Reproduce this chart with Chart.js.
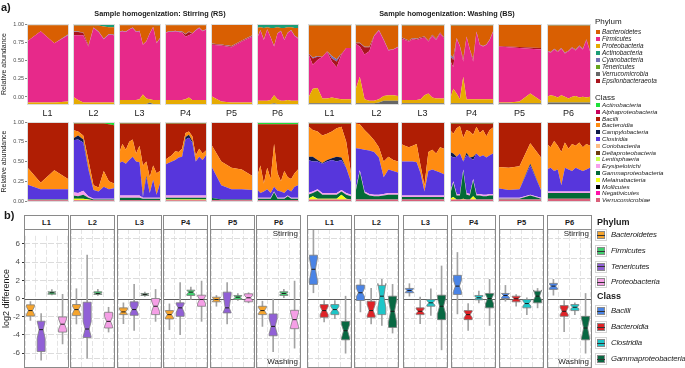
<!DOCTYPE html>
<html><head><meta charset="utf-8">
<script src="https://cdn.jsdelivr.net/npm/chart.js@4"></script>
<style>
html,body{margin:0;padding:0;background:#fff;}
#root{position:relative;width:685px;height:368px;overflow:hidden;font-family:"Liberation Sans",Arial,sans-serif;color:#1a1a1a;}
.t{position:absolute;white-space:nowrap;line-height:1;}
.frame{position:absolute;box-sizing:border-box;pointer-events:none;}
canvas{position:absolute;}
</style></head><body><div id="root"></div>
<script>
// ================= DATA =================
const panelNames = ['L1','L2','L3','P4','P5','P6'];

// Phylum stack order (bottom -> top)
const phylumStack = ['Verrucomicrobia','Proteobacteria','Firmicutes','Epsilonbacteraeota','Cyanobacteria','Bacteroidetes','Actinobacteria'];
// Class stack order (bottom -> top)
const classStack = ['Verrucomicrobiae','Melainabacteria','Gammaproteobacteria','Erysipelotrichia','Clostridia','Campylobacteria','Bacteroidia','Bacilli','Actinobacteria'];

// ---- Phylum relative abundance, Stirring (RS) ----
const phyRS_L1 = [
 [0,0,0,0],
 [.02,.02,.02,.03],
 [.76,.89,.74,.83],
 [0,0,0,0],
 [0,0,0,.01],
 [.205,.075,.225,.115],
 [.015,.015,.015,.015]];
const phyRS_L2 = [
 [0,0,0,0,0,0,0,0,0],
 [.09,.05,.02,.02,.02,.02,.02,.02,.02],
 [.77,.81,.84,.70,.93,.88,.79,.85,.84],
 [.04,.04,.03,.01,0,0,0,0,0],
 [.005,.005,.005,.005,.005,.005,.005,.005,.005],
 [.075,.075,.085,.245,.025,.075,.155,.085,.095],
 [.02,.02,.02,.02,.02,.02,.03,.04,.04]];
const phyRS_L3 = [
 [0,0,0,0,0,0,0,0,0,.02,0,0,0],
 [.05,.05,.05,.05,.05,.05,.06,.12,.07,.04,.05,.05,.05],
 [.85,.86,.85,.88,.90,.85,.85,.62,.71,.82,.91,.71,.77],
 [0,0,0,0,0,0,0,0,0,0,0,0,0],
 [.005,.005,.005,.005,.005,.005,.005,.005,.005,.005,.005,.005,.005],
 [.08,.07,.08,.05,.03,.08,.07,.24,.20,.10,.02,.215,.155],
 [.015,.015,.015,.015,.015,.015,.015,.015,.015,.015,.015,.02,.02]];
const phyRS_P4 = [
 [0,0,0,0,0,0,0,0,0,0,0,0,0],
 [.05,.05,.05,.05,.05,.05,.06,.08,.05,.05,.05,.05,.05],
 [.84,.85,.85,.86,.85,.84,.78,.78,.83,.87,.90,.86,.88],
 [0,0,0,0,0,.01,.03,.04,0,0,0,0,0],
 [.005,.005,.005,.005,.005,.005,.005,.005,.005,.005,.005,.005,.005],
 [.09,.08,.08,.07,.08,.08,.11,.08,.10,.06,.03,.07,.05],
 [.015,.015,.015,.015,.015,.015,.015,.015,.015,.015,.015,.015,.015]];
const phyRS_P5 = [
 [0,0,0,0,0],
 [.10,.03,.02,.02,.02],
 [.64,.70,.69,.76,.82],
 [.01,.01,.01,.01,.01],
 [.005,.005,.005,.005,.005],
 [.24,.25,.27,.20,.14],
 [.005,.005,.005,.005,.005]];
const phyRS_P6 = [
 [0,0,0,0,0,.01,0,0,0,0,0,0,0],
 [.04,.04,.04,.04,.05,.10,.06,.04,.04,.05,.04,.04,.04],
 [.78,.88,.76,.89,.78,.61,.82,.87,.76,.84,.88,.81,.78],
 [0,0,0,0,0,0,0,0,0,0,0,0,0],
 [.005,.005,.005,.005,.005,.005,.005,.005,.005,.005,.005,.005,.005],
 [.125,.035,.145,.025,.115,.225,.075,.035,.145,.065,.035,.095,.125],
 [.05,.04,.05,.04,.05,.05,.04,.05,.05,.04,.04,.05,.05]];

// ---- Phylum relative abundance, Washing (BS) ----
const phyBS_L1 = [
 [.01,.01,.01,.01,.01,.01,.01,.01,.01,.01],
 [.06,.18,.19,.06,.06,.07,.06,.05,.05,.05],
 [.57,.30,.35,.52,.58,.45,.39,.56,.64,.64],
 [0,.08,.04,0,.01,.04,.07,.01,0,0],
 [0,.01,.01,0,0,.03,.03,0,0,0],
 [.34,.40,.38,.39,.32,.38,.42,.35,.28,.28],
 [.02,.02,.02,.02,.02,.02,.02,.02,.02,.02]];
const phyBS_L2 = [
 [.01,.01,.01,.01,.01,.02,.04,.04,.04,.04],
 [.15,.33,.05,.03,.03,.04,.06,.07,.07,.06],
 [.60,.38,.56,.62,.81,.86,.70,.56,.57,.61],
 [0,.04,.09,.05,0,0,0,0,0,0],
 [.005,.005,.005,.005,.005,.005,.005,.005,.005,.005],
 [.215,.215,.265,.265,.125,.055,.175,.305,.295,.265],
 [.02,.02,.02,.02,.02,.02,.02,.02,.02,.02]];
const phyBS_L3 = [
 [.01,.01,.01,.01,.01,.01,.01,.01,.01,.01,.01,.01],
 [.04,.04,.04,.04,.04,.05,.10,.12,.07,.06,.06,.06],
 [.77,.75,.73,.76,.75,.76,.72,.65,.77,.73,.81,.75],
 [.01,.01,.01,.01,.01,.01,.01,.01,.01,.01,.01,.01],
 [.005,.005,.005,.005,.005,.005,.005,.005,.005,.005,.005,.005],
 [.145,.165,.185,.155,.165,.145,.135,.185,.115,.165,.085,.145],
 [.02,.02,.02,.02,.02,.02,.02,.02,.02,.02,.02,.02]];
const phyBS_P4 = [
 [.01,.01,.01,.01,.01,.01,.01,.01,.01,.01,.01,.01,.01,.01],
 [.05,.18,.12,.05,.33,.05,.05,.05,.05,.05,.05,.05,.05,.05],
 [.49,.27,.69,.66,.19,.78,.62,.47,.84,.68,.66,.68,.74,.84],
 [.05,.09,0,0,.03,0,0,.03,0,0,0,0,0,0],
 [.02,.03,.005,.005,.005,.005,.005,.005,.005,.005,.005,.005,.005,.005],
 [.36,.40,.155,.255,.415,.135,.295,.415,.075,.235,.255,.235,.175,.075],
 [.02,.02,.02,.02,.02,.02,.02,.02,.02,.02,.02,.02,.02,.02]];
const phyBS_P5 = [
 [.01,.01,.01,.01,.01],
 [.01,.01,.02,.12,.03],
 [.70,.69,.67,.56,.64],
 [.005,.01,.012,.015,.02],
 [0,0,0,0,0],
 [.27,.275,.283,.29,.295],
 [.005,.005,.005,.005,.005]];
const phyBS_P6 = [
 [.02,.02,.02,.02,.02,.02,.02,.02,.02,.02,.02,.02,.02],
 [.07,.09,.08,.06,.09,.07,.05,.07,.08,.06,.07,.06,.07],
 [.57,.53,.58,.57,.58,.54,.59,.61,.57,.64,.59,.72,.57],
 [.005,.005,.005,.005,.005,.005,.005,.005,.005,.005,.005,.005,.005],
 [.005,.005,.005,.005,.005,.005,.005,.005,.005,.005,.005,.005,.005],
 [.31,.33,.29,.32,.28,.34,.31,.27,.30,.25,.29,.17,.31],
 [.02,.02,.02,.02,.02,.02,.02,.02,.02,.02,.02,.02,.02]];

// ---- Class relative abundance, Stirring (RS) ----
const clsRS_L1 = [
 [.01,.01,.01,.01],
 [0,0,0,0],
 [.01,.01,.01,.01],
 [.005,.005,.005,.005],
 [.185,.125,.125,.125],
 [0,0,0,0],
 [.22,.08,.24,.13],
 [.56,.76,.60,.71],
 [.01,.01,.01,.01]];
const clsRS_L2 = [
 [.01,.01,.01,.01,.01,.01,.01,.01,.01],
 [.02,.02,.02,.01,0,0,0,0,0],
 [.04,.03,.05,.02,.01,.01,.01,.01,.01],
 [.04,.04,.05,.02,.01,.01,.01,.01,.01],
 [.66,.68,.61,.34,.11,.09,.15,.12,.13],
 [.02,.05,.04,.01,0,0,0,0,0],
 [.11,.05,.05,.11,.06,.05,.20,.10,.06],
 [.08,.10,.15,.46,.78,.81,.60,.72,.74],
 [.02,.02,.02,.02,.02,.02,.02,.03,.04]];
const clsRS_L3 = [
 [.01,.01,.01,.01,.01,.01,.01,.01,.01,.01,.01,.01,.01],
 [0,0,0,0,0,0,0,0,0,0,0,0,0],
 [.03,.03,.03,.03,.03,.03,.03,.02,.02,.02,.02,.02,.02],
 [.03,.03,.03,.03,.03,.03,.03,.01,.01,.01,.01,.01,.01],
 [.41,.43,.40,.45,.49,.43,.42,.01,.26,.06,.23,.04,.18],
 [0,0,0,0,0,0,0,.02,.02,0,0,0,0],
 [.12,.22,.18,.23,.22,.10,.21,.38,.18,.20,.18,.27,.16],
 [.38,.26,.33,.23,.20,.38,.28,.53,.48,.68,.53,.63,.60],
 [.02,.02,.02,.02,.02,.02,.02,.02,.02,.02,.02,.02,.02]];
const clsRS_P4 = [
 [.01,.01,.01,.01,.01,.01,.01,.01,.01,.01,.01,.01,.01],
 [.01,.01,.01,.01,.01,.01,.01,.01,.01,.01,.01,.01,.01],
 [.02,.02,.02,.02,.02,.02,.02,.02,.02,.02,.02,.02,.02],
 [.03,.03,.03,.03,.03,.03,.03,.03,.03,.03,.03,.03,.03],
 [.39,.41,.43,.45,.48,.49,.71,.73,.67,.43,.49,.45,.51],
 [0,0,0,0,0,0,.03,.04,.02,0,0,0,0],
 [.06,.07,.08,.11,.07,.10,.05,.04,.06,.08,.10,.08,.06],
 [.46,.43,.40,.35,.36,.32,.12,.10,.16,.40,.32,.38,.34],
 [.02,.02,.02,.02,.02,.02,.02,.02,.02,.02,.02,.02,.02]];
const clsRS_P5 = [
 [.01,.01,.01,.01,.01],
 [0,0,0,0,0],
 [.03,.01,.01,.01,.01],
 [0,0,0,0,0],
 [.41,.18,.13,.13,.12],
 [0,0,0,0,0],
 [.27,.30,.27,.25,.18],
 [.28,.50,.58,.60,.68],
 [0,0,0,0,0]];
const clsRS_P6 = [
 [.01,.01,.01,.01,.01,.01,.01,.01,.01,.01,.01,.01,.01],
 [0,0,0,0,0,0,0,0,0,0,0,0,0],
 [.02,.02,.02,.02,.02,.10,.02,.02,.02,.05,.02,.02,.02],
 [.01,.01,.01,.01,.01,.01,.01,.01,.01,.01,.01,.01,.01],
 [.11,.06,.08,.11,.06,.06,.09,.08,.06,.08,.08,.14,.16],
 [0,0,0,0,0,0,0,0,0,0,0,0,0],
 [.15,.35,.10,.27,.18,.54,.22,.13,.28,.15,.16,.17,.20],
 [.67,.52,.75,.55,.69,.25,.62,.72,.59,.67,.69,.62,.57],
 [.03,.03,.03,.03,.03,.03,.03,.03,.03,.03,.03,.03,.03]];

// ---- Class relative abundance, Washing (BS) ----
const clsBS_L1 = [
 [.02,.02,.02,.02,.02,.02,.02,.02,.02,.02],
 [.01,.04,.01,.01,.01,.01,.01,.06,.01,0],
 [.05,.04,.10,.05,.05,.05,.05,.04,.05,.04],
 [.02,.02,.02,.02,.02,.02,.02,.02,.02,.02],
 [.42,.38,.35,.37,.40,.42,.40,.38,.32,.16],
 [.04,.06,.02,.01,.02,.02,.06,.03,0,0],
 [.39,.34,.36,.35,.33,.34,.36,.39,.33,.11],
 [.03,.08,.10,.15,.13,.10,.06,.04,.23,.63],
 [.02,.02,.02,.02,.02,.02,.02,.02,.02,.02]];
const clsBS_L2 = [
 [.02,.02,.02,.02,.02,.02,.02,.02,.02,.02],
 [0,0,0,0,0,0,0,0,0,0],
 [.06,.35,.08,.05,.04,.04,.05,.06,.06,.06],
 [.02,.02,.02,.02,.02,.02,.02,.02,.02,.02],
 [.57,.27,.53,.55,.54,.47,.21,.30,.28,.26],
 [0,0,0,0,0,0,0,0,0,0],
 [.31,.31,.25,.20,.15,.13,.20,.16,.14,.14],
 [.01,.02,.09,.15,.22,.31,.49,.43,.47,.49],
 [.01,.01,.01,.01,.01,.01,.01,.01,.01,.01]];
const clsBS_L3 = [
 [.02,.02,.02,.02,.02,.02,.02,.02,.02,.02,.02,.02],
 [0,0,0,0,0,0,0,0,0,0,0,0],
 [.03,.03,.03,.03,.03,.03,.03,.03,.03,.03,.03,.03],
 [.02,.02,.02,.02,.02,.02,.02,.02,.02,.02,.02,.02],
 [.43,.43,.43,.43,.42,.28,.05,.31,.33,.31,.29,.27],
 [0,0,0,0,0,0,0,0,0,0,0,0],
 [.22,.20,.18,.20,.23,.10,.08,.24,.25,.22,.32,.32],
 [.27,.29,.31,.29,.27,.54,.79,.37,.34,.39,.31,.33],
 [.01,.01,.01,.01,.01,.01,.01,.01,.01,.01,.01,.01]];
const clsBS_P4 = [
 [.02,.02,.02,.02,.02,.02,.02,.02,.02,.02,.02,.02,.02,.02],
 [.01,.03,0,0,.01,0,0,.04,0,0,0,0,0,0],
 [.05,.18,.05,.05,.35,.06,.05,.20,.05,.05,.04,.04,.05,.05],
 [.02,.02,.02,.02,.02,.02,.02,.02,.02,.02,.02,.02,.02,.02],
 [.48,.30,.47,.51,.10,.48,.46,.24,.51,.47,.50,.47,.49,.51],
 [.04,.05,0,0,0,.03,0,.04,0,0,0,0,0,0],
 [.28,.25,.36,.35,.30,.29,.33,.28,.34,.30,.32,.27,.32,.33],
 [.08,.13,.06,.03,.18,.08,.10,.14,.04,.12,.08,.16,.08,.05],
 [.02,.02,.02,.02,.02,.02,.02,.02,.02,.02,.02,.02,.02,.02]];
const clsBS_P5 = [
 [.02,.02,.02,.02,.02],
 [0,0,0,0,0],
 [.01,.01,.01,.05,.01],
 [.01,.01,.01,.01,.01],
 [.12,.10,.11,.37,.10],
 [0,0,0,.02,0],
 [.27,.28,.29,.26,.41],
 [.57,.58,.56,.27,.45],
 [0,0,0,0,0]];
const clsBS_P6 = [
 [.03,.03,.03,.03,.03,.03,.03,.03,.03,.03,.03,.03,.03],
 [0,0,0,0,0,0,0,0,0,0,0,0,0],
 [.07,.07,.07,.07,.07,.07,.07,.07,.07,.07,.07,.07,.07],
 [.02,.02,.02,.02,.02,.02,.02,.02,.02,.02,.02,.02,.02],
 [.28,.30,.26,.28,.08,.30,.28,.26,.30,.28,.26,.28,.30],
 [0,0,0,0,0,0,0,0,0,0,0,0,0],
 [.32,.26,.38,.30,.42,.32,.26,.34,.28,.34,.30,.32,.28],
 [.27,.31,.23,.29,.37,.25,.33,.27,.29,.25,.31,.27,.29],
 [.01,.01,.01,.01,.01,.01,.01,.01,.01,.01,.01,.01,.01]];

// ---- log2 difference boxplots: [min, q1, median, q3, max, notchLow, notchHigh] ----
const boxPhylumOrder = ['Bacteroidetes','Tenericutes','Firmicutes','Proteobacteria'];
const boxClassOrder = ['Bacilli','Bacteroidia','Clostridia','Gammaproteobacteria'];
const boxRS_L1 = [[-2.4,-1.93,-1.33,-0.7,-0.33,-1.75,-0.9],[-6.8,-5.83,-3.43,-2.5,-1.67,-4.4,-2.5],[0.4,0.47,0.63,0.73,0.97,0.52,0.72],[-5.0,-3.7,-2.83,-2.03,0.47,-3.4,-2.25]];
const boxRS_L2 = [[-2.53,-1.7,-1.1,-0.6,0.97,-1.5,-0.75],[-5.93,-3.87,-3.03,-0.37,4.3,-3.8,-2.3],[0.3,0.4,0.5,0.67,0.9,0.45,0.58],[-3.33,-2.93,-2.27,-1.37,-0.87,-2.75,-1.8]];
const boxRS_L3 = [[-2.5,-1.6,-1.33,-0.93,-0.43,-1.55,-1.1],[-3.17,-1.67,-1.1,-0.33,1.4,-1.5,-0.7],[0.2,0.3,0.4,0.5,0.63,0.33,0.47],[-2.27,-1.6,-0.77,0.0,0.9,-1.3,-0.25]];
const boxRS_P4 = [[-3.1,-2.03,-1.6,-1.2,-0.53,-1.9,-1.3],[-3.6,-1.77,-0.93,-0.43,1.57,-1.4,-0.55],[-0.1,0.3,0.63,0.83,1.13,0.45,0.8],[-2.27,-0.77,-0.1,0.33,1.73,-0.5,0.25]];
const boxRS_P5 = [[-0.77,-0.33,-0.1,0.13,0.3,-0.27,0.07],[-2.53,-1.43,-0.93,0.63,1.57,-1.4,0.4],[-0.2,-0.1,0.13,0.3,0.5,0.0,0.25],[-0.43,-0.33,0.07,0.47,0.57,-0.2,0.3]];
const boxRS_P6 = [[-2.77,-1.6,-1.2,-0.77,-0.27,-1.5,-0.9],[-5.27,-3.7,-2.77,-1.53,0.0,-3.5,-2.0],[0.07,0.3,0.5,0.67,0.9,0.4,0.6],[-4.93,-3.0,-2.1,-1.17,1.73,-2.8,-1.4]];
const boxBS_L1 = [[0.57,1.4,2.9,4.3,6.8,1.8,4.0],[-2.33,-1.87,-1.2,-0.6,-0.2,-1.6,-0.8],[-2.0,-1.6,-1.1,-0.6,-0.2,-1.4,-0.8],[-5.43,-4.1,-3.2,-2.27,0.23,-3.9,-2.6]];
const boxBS_L2 = [[-1.33,-0.2,0.57,1.33,1.9,0.2,1.0],[-2.53,-1.87,-1.2,-0.27,1.0,-1.7,-0.6],[-2.67,-1.6,0.23,1.3,1.9,-0.9,1.5],[-3.43,-2.87,-1.27,0.23,1.4,-2.3,-0.2]];
const boxBS_L3 = [[0.23,0.57,0.8,1.0,1.47,0.65,0.93],[-2.5,-1.6,-1.27,-0.93,0.13,-1.5,-1.05],[-1.67,-0.77,-0.43,-0.1,0.97,-0.65,-0.2],[-5.1,-2.1,-0.77,0.33,3.23,-1.5,0.0]];
const boxBS_P4 = [[-1.53,0.4,1.23,2.3,4.57,0.7,1.8],[-3.17,-2.1,-1.6,-1.2,-0.5,-1.9,-1.3],[-0.43,-0.13,0.07,0.3,0.73,-0.05,0.2],[-2.67,-0.93,0.0,0.5,1.9,-0.5,0.4]];
const boxBS_P5 = [[-0.27,0.0,0.3,0.5,1.3,0.1,0.5],[-0.77,-0.33,-0.03,0.23,0.4,-0.2,0.15],[-1.6,-0.93,-0.5,-0.1,0.07,-0.75,-0.25],[-0.93,-0.43,0.23,0.73,1.0,-0.15,0.85]];
const boxBS_P6 = [[0.33,0.9,1.23,1.5,1.9,1.05,1.4],[-3.3,-1.77,-1.27,-0.7,-0.2,-1.6,-0.9],[-1.6,-1.2,-0.87,-0.6,-0.43,-1.0,-0.7],[-5.43,-4.1,-2.93,-1.77,0.5,-3.9,-2.0]];

// tick labels
const abundanceTicks = [0, 0.25, 0.5, 0.75, 1];
const log2Ticks = [-6, -4, -2, 0, 2, 4, 6];

// legend entries
const phylumLegend = ['Bacteroidetes','Firmicutes','Proteobacteria','Actinobacteria','Cyanobacteria','Tenericutes','Verrucomicrobia','Epsilonbacteraeota'];
const classLegend = ['Actinobacteria','Alphaproteobacteria','Bacilli','Bacteroidia','Campylobacteria','Clostridia','Coriobacteriia','Deltaproteobacteria','Lentisphaeria','Erysipelotrichi','Gammaproteobacteria','Melainabacteria','Mollicutes','Negativicutes','Verrucomicrobiae'];
const boxPhylumLegend = ['Bacteroidetes','Firmicutes','Tenericutes','Proteobacteria'];
const boxClassLegend = ['Bacilli','Bacteroidia','Clostridia','Gammaproteobacteria'];

// ================= STYLE =================
const phylumColors = {Bacteroidetes:'#d95f02',Firmicutes:'#e7298a',Proteobacteria:'#e6ab02',Actinobacteria:'#1b9e77',Cyanobacteria:'#7570b3',Tenericutes:'#66a61e',Verrucomicrobia:'#666666',Epsilonbacteraeota:'#a8141c'};
const classColors = {Actinobacteria:'#1fe03a',Alphaproteobacteria:'#c8005a',Bacilli:'#b01e04',Bacteroidia:'#ff8c12',Campylobacteria:'#0c1a48',Clostridia:'#5736dc',Coriobacteriia:'#ffbd85',Deltaproteobacteria:'#6e3c0c',Lentisphaeria:'#c9ff4d',Erysipelotrichi:'#f7a0ec',Erysipelotrichia:'#f7a0ec',Gammaproteobacteria:'#036a36',Melainabacteria:'#f2ff14',Mollicutes:'#000000',Negativicutes:'#ff10a8',Verrucomicrobiae:'#d9607a'};
const boxColorMap = {Bacteroidetes:'#f6a42c',Firmicutes:'#3fd06e',Tenericutes:'#9160d6',Proteobacteria:'#f59fe6',Bacilli:'#4a84e6',Bacteroidia:'#df2227',Clostridia:'#1ec6c8',Gammaproteobacteria:'#086842'};

const FONT = '"Liberation Sans", Arial, sans-serif';
Chart.defaults.font.family = FONT;
Chart.defaults.animation = false;

const root = document.getElementById('root');
function txt(s, x, y, o={}){
  const d = document.createElement('div'); d.className='t'; d.textContent = s;
  const size = o.size||8;
  d.style.fontSize = size+'px';
  if(o.bold) d.style.fontWeight='bold';
  if(o.italic) d.style.fontStyle='italic';
  if(o.color) d.style.color=o.color;
  if(o.ls) d.style.letterSpacing=o.ls;
  d.style.left = x+'px'; d.style.top = (y - size*0.5)+'px';
  const a = o.align||'left';
  d.style.transform = a==='center' ? 'translateX(-50%)' : (a==='right' ? 'translateX(-100%)' : 'none');
  root.appendChild(d); return d;
}
function rect(x,y,w,h,css){ const d=document.createElement('div'); d.className='frame'; d.style.cssText+=`left:${x}px;top:${y}px;width:${w}px;height:${h}px;`+css; root.appendChild(d); return d; }
function addCanvas(x,y,w,h){ const c=document.createElement('canvas'); c.width=w; c.height=h; c.style.left=x+'px'; c.style.top=y+'px'; c.style.width=w+'px'; c.style.height=h+'px'; root.appendChild(c); return c; }

// ================= AREA PANELS =================
function areaPanel(px, py, pw, ph, rows, names, colors, axis){
  const axW = axis ? 27 : 0, m = 5;
  const c = addCanvas(px-axW, py-m, pw+axW, ph+2*m);
  const datasets = rows.map((r,i)=>({label:names[i], data:r, backgroundColor:colors[names[i]], borderColor:'rgba(0,0,0,0)', borderWidth:0, pointRadius:0, fill: i===0 ? 'origin' : '-1', yAxisID:'y'}));
  const scales = {
    x:{type:'category', display:false, offset:false},
    y:{type:'linear', stacked:true, min:0, max:1, display:false}
  };
  if(axis){
    scales.yv = {type:'linear', position:'left', min:axis.min, max:1, display:true,
      afterBuildTicks:s=>{ s.ticks = abundanceTicks.map(v=>({value:v})); },
      afterFit:s=>{ s.width = axW; },
      grid:{drawOnChartArea:false, drawTicks:true, tickLength:2, color:'#333', lineWidth:0.6},
      border:{display:false},
      ticks:{font:{size:5.5}, color:'#4d4d4d', padding:1, callback:v=>Number(v).toFixed(2)},
      title:{display:true, text:'Relative abundance', font:{size:7}, color:'#1a1a1a', padding:{top:0,bottom:1}}};
  }
  new Chart(c, {type:'line', data:{labels:rows[0].map((_,i)=>String(i+1)), datasets},
    options:{responsive:false, animation:false, devicePixelRatio:1,
      layout:{padding:{top:m,bottom:m,left:0,right:0}, autoPadding:false},
      plugins:{legend:{display:false}, tooltip:{enabled:false}},
      elements:{line:{tension:0}}, scales}});
  rect(px-0.5, py-0.5, pw+1, ph+1, 'border:1px solid #dcdcdc;');
}

const stirAreaX = [27, 73, 119, 165, 211, 257], stirAreaW = 41;
const washAreaX = [308, 355, 401, 450, 498, 547], washAreaW = 43;
const phyRowY = 24, phyRowH = 80, clsRowY = 122, clsRowH = 79;
const phylumAxisMin = -0.096;

const phyRS = [phyRS_L1, phyRS_L2, phyRS_L3, phyRS_P4, phyRS_P5, phyRS_P6];
const phyBS = [phyBS_L1, phyBS_L2, phyBS_L3, phyBS_P4, phyBS_P5, phyBS_P6];
const clsRS = [clsRS_L1, clsRS_L2, clsRS_L3, clsRS_P4, clsRS_P5, clsRS_P6];
const clsBS = [clsBS_L1, clsBS_L2, clsBS_L3, clsBS_P4, clsBS_P5, clsBS_P6];

panelNames.forEach((nm,i)=>{
  areaPanel(stirAreaX[i], phyRowY, stirAreaW, phyRowH, phyRS[i], phylumStack, phylumColors, i===0?{min:phylumAxisMin}:null);
  areaPanel(washAreaX[i], phyRowY, washAreaW, phyRowH, phyBS[i], phylumStack, phylumColors, null);
  areaPanel(stirAreaX[i], clsRowY, stirAreaW, clsRowH, clsRS[i], classStack, classColors, i===0?{min:0}:null);
  areaPanel(washAreaX[i], clsRowY, washAreaW, clsRowH, clsBS[i], classStack, classColors, null);
  txt(nm, stirAreaX[i]+stirAreaW/2, 113, {size:9, align:'center', color:'#1a1a1a'});
  txt(nm, washAreaX[i]+washAreaW/2, 113, {size:9, align:'center', color:'#1a1a1a'});
});

// ================= BOX PANELS =================
const notchBoxes = {
  id:'notchBoxes',
  beforeDatasetsDraw(chart){
    const y=chart.scales.y, a=chart.chartArea, ctx=chart.ctx;
    const p = Math.round(y.getPixelForValue(0))+0.5;
    ctx.save(); ctx.strokeStyle='#5f5f5f'; ctx.lineWidth=1;
    ctx.beginPath(); ctx.moveTo(a.left,p); ctx.lineTo(a.right,p); ctx.stroke(); ctx.restore();
  },
  afterDatasetsDraw(chart){
    const ds = chart.data.datasets[1], meta = chart.getDatasetMeta(1), y = chart.scales.y, ctx = chart.ctx, a = chart.chartArea;
    ctx.save(); ctx.beginPath(); ctx.rect(a.left,a.top,a.right-a.left,a.bottom-a.top); ctx.clip();
    meta.data.forEach((el,i)=>{
      const s = ds.stats[i]; const w = el.width; const xl = el.x-w/2, xr = el.x+w/2, nw = w*0.25;
      const Y = v=>y.getPixelForValue(v);
      const q1=Y(s[1]), md=Y(s[2]), q3=Y(s[3]), nl=Y(s[5]), nh=Y(s[6]);
      ctx.beginPath();
      ctx.moveTo(xl,q3); ctx.lineTo(xr,q3); ctx.lineTo(xr,nh); ctx.lineTo(xr-nw,md); ctx.lineTo(xr,nl); ctx.lineTo(xr,q1);
      ctx.lineTo(xl,q1); ctx.lineTo(xl,nl); ctx.lineTo(xl+nw,md); ctx.lineTo(xl,nh); ctx.closePath();
      ctx.fillStyle = ds.boxColors[i]; ctx.fill();
      ctx.strokeStyle = '#7d7d7d'; ctx.lineWidth = 0.8; ctx.stroke();
      ctx.beginPath(); ctx.moveTo(xl+nw,md); ctx.lineTo(xr-nw,md); ctx.strokeStyle='#1a1a1a'; ctx.lineWidth=1; ctx.stroke();
    });
    ctx.restore();
  }
};

function boxPanel(px, py, pw, ph, stats, order, axis){
  const axW = axis ? 23 : 0;
  const c = addCanvas(px-axW, py, pw+axW, ph);
  const cols = order.map(k=>boxColorMap[k]);
  new Chart(c, {type:'bar',
    data:{datasets:[
      {label:'range', data:stats.map((s,i)=>({x:i+1, y:[s[0], s[4]]})), backgroundColor:'#a3a3a3', barThickness:1, grouped:false},
      {label:'box', data:stats.map((s,i)=>({x:i+1, y:[s[1], s[3]]})), backgroundColor:'rgba(0,0,0,0)', barThickness:8, grouped:false, stats:stats, boxColors:cols}
    ]},
    options:{responsive:false, animation:false, devicePixelRatio:1,
      layout:{padding:0, autoPadding:false},
      plugins:{legend:{display:false}, tooltip:{enabled:false}},
      scales:{
        x:{type:'linear', min:0.4, max:4.6, offset:false,
          afterBuildTicks:s=>{ s.ticks = [1,2,3,4].map(v=>({value:v})); },
          afterFit:s=>{ s.height = 0; },
          ticks:{display:false}, grid:{color:'#e4e4e4', lineWidth:1, drawTicks:false},
          border:{display:false, dash:[5,2]}},
        y:{type:'linear', min:-6.9, max:6.9,
          afterBuildTicks:s=>{ s.ticks = log2Ticks.map(v=>({value:v})); },
          afterFit:s=>{ s.width = axW; },
          ticks:{display:!!axis, font:{size:8}, color:'#4d4d4d', padding:2},
          grid:{color:ctx=> (ctx.tick && ctx.tick.value===0) ? 'rgba(0,0,0,0)' : '#dcdcdc', tickColor:'#333', drawTicks:!!axis, tickLength:2, lineWidth:1},
          border:{display:false, dash:[6,2]},
          title:{display:!!axis, text:'log2 difference', font:{size:9}, color:'#1a1a1a', padding:{top:0,bottom:0}}}
      }},
    plugins:[notchBoxes]});
  rect(px, py, pw, ph, 'border:1px solid #8a8a8a;');
}

const boxStirX = [24, 70, 117, 163, 210, 256];
const boxWashX = [307, 354, 403, 451, 499, 547];
const boxW = 45, boxY = 229, boxH = 139, stripY = 215, stripH = 15;
const boxRS = [boxRS_L1, boxRS_L2, boxRS_L3, boxRS_P4, boxRS_P5, boxRS_P6];
const boxBS = [boxBS_L1, boxBS_L2, boxBS_L3, boxBS_P4, boxBS_P5, boxBS_P6];

panelNames.forEach((nm,i)=>{
  boxPanel(boxStirX[i], boxY, boxW, boxH, boxRS[i], boxPhylumOrder, i===0);
  boxPanel(boxWashX[i], boxY, boxW, boxH, boxBS[i], boxClassOrder, false);
  rect(boxStirX[i], stripY, boxW, stripH, 'border:1px solid #8a8a8a;background:#fff;');
  rect(boxWashX[i], stripY, boxW, stripH, 'border:1px solid #8a8a8a;background:#fff;');
  txt(nm, boxStirX[i]+boxW/2, stripY+stripH/2, {size:7.5, bold:true, align:'center'});
  txt(nm, boxWashX[i]+boxW/2, stripY+stripH/2, {size:7.5, bold:true, align:'center'});
});
txt('Stirring', boxStirX[5]+boxW-3, 234, {size:8, align:'right'});
txt('Washing', boxStirX[5]+boxW-3, 362, {size:8, align:'right'});
txt('Stirring', boxWashX[5]+boxW-3, 234, {size:8, align:'right'});
txt('Washing', boxWashX[5]+boxW-3, 362, {size:8, align:'right'});

// ================= TITLES / LABELS =================
txt('a)', 1, 7, {size:11, bold:true});
txt('b)', 4, 215, {size:11, bold:true});
txt('Sample homogenization: Stirring (RS)', 160, 14, {size:7.3, bold:true, align:'center'});
txt('Sample homogenization: Washing (BS)', 447, 14, {size:7.3, bold:true, align:'center'});

// ================= LEGENDS =================
txt('Phylum', 595, 22, {size:8});
phylumLegend.forEach((nm,i)=>{
  const yy = 31.7 + i*7.05;
  rect(596, yy-2, 4, 4, 'background:'+phylumColors[nm]+';');
  txt(nm, 602, yy, {size:6.4, italic:true});
});
txt('Class', 595, 98, {size:8});
classLegend.forEach((nm,i)=>{
  const yy = 105 + i*6.8;
  rect(596, yy-2, 4, 4, 'background:'+classColors[nm]+';');
  txt(nm, 602, yy, {size:6.2, italic:true});
});

function boxKey(y, col){
  rect(595, y-6, 12, 12, 'background:#fff;border:1px solid #d5d5d5;');
  rect(597, y-4, 8, 8, 'background:'+col+';border:1px solid #8a8a8a;');
  rect(597, y-0.5, 8, 1, 'background:#333;');
}
txt('Phylum', 597, 222, {size:9, bold:true});
const boxPhyY = [235, 251, 266.5, 282];
boxPhylumLegend.forEach((nm,i)=>{ boxKey(boxPhyY[i], boxColorMap[nm]); txt(nm, 611, boxPhyY[i], {size:7.8, italic:true, ls:'-0.15px'}); });
txt('Class', 597, 296, {size:9, bold:true});
const boxClsY = [311, 327, 343, 359];
boxClassLegend.forEach((nm,i)=>{ boxKey(boxClsY[i], boxColorMap[nm]); txt(nm, 611, boxClsY[i], {size:7.8, italic:true, ls:'-0.15px'}); });
</script></body></html>
